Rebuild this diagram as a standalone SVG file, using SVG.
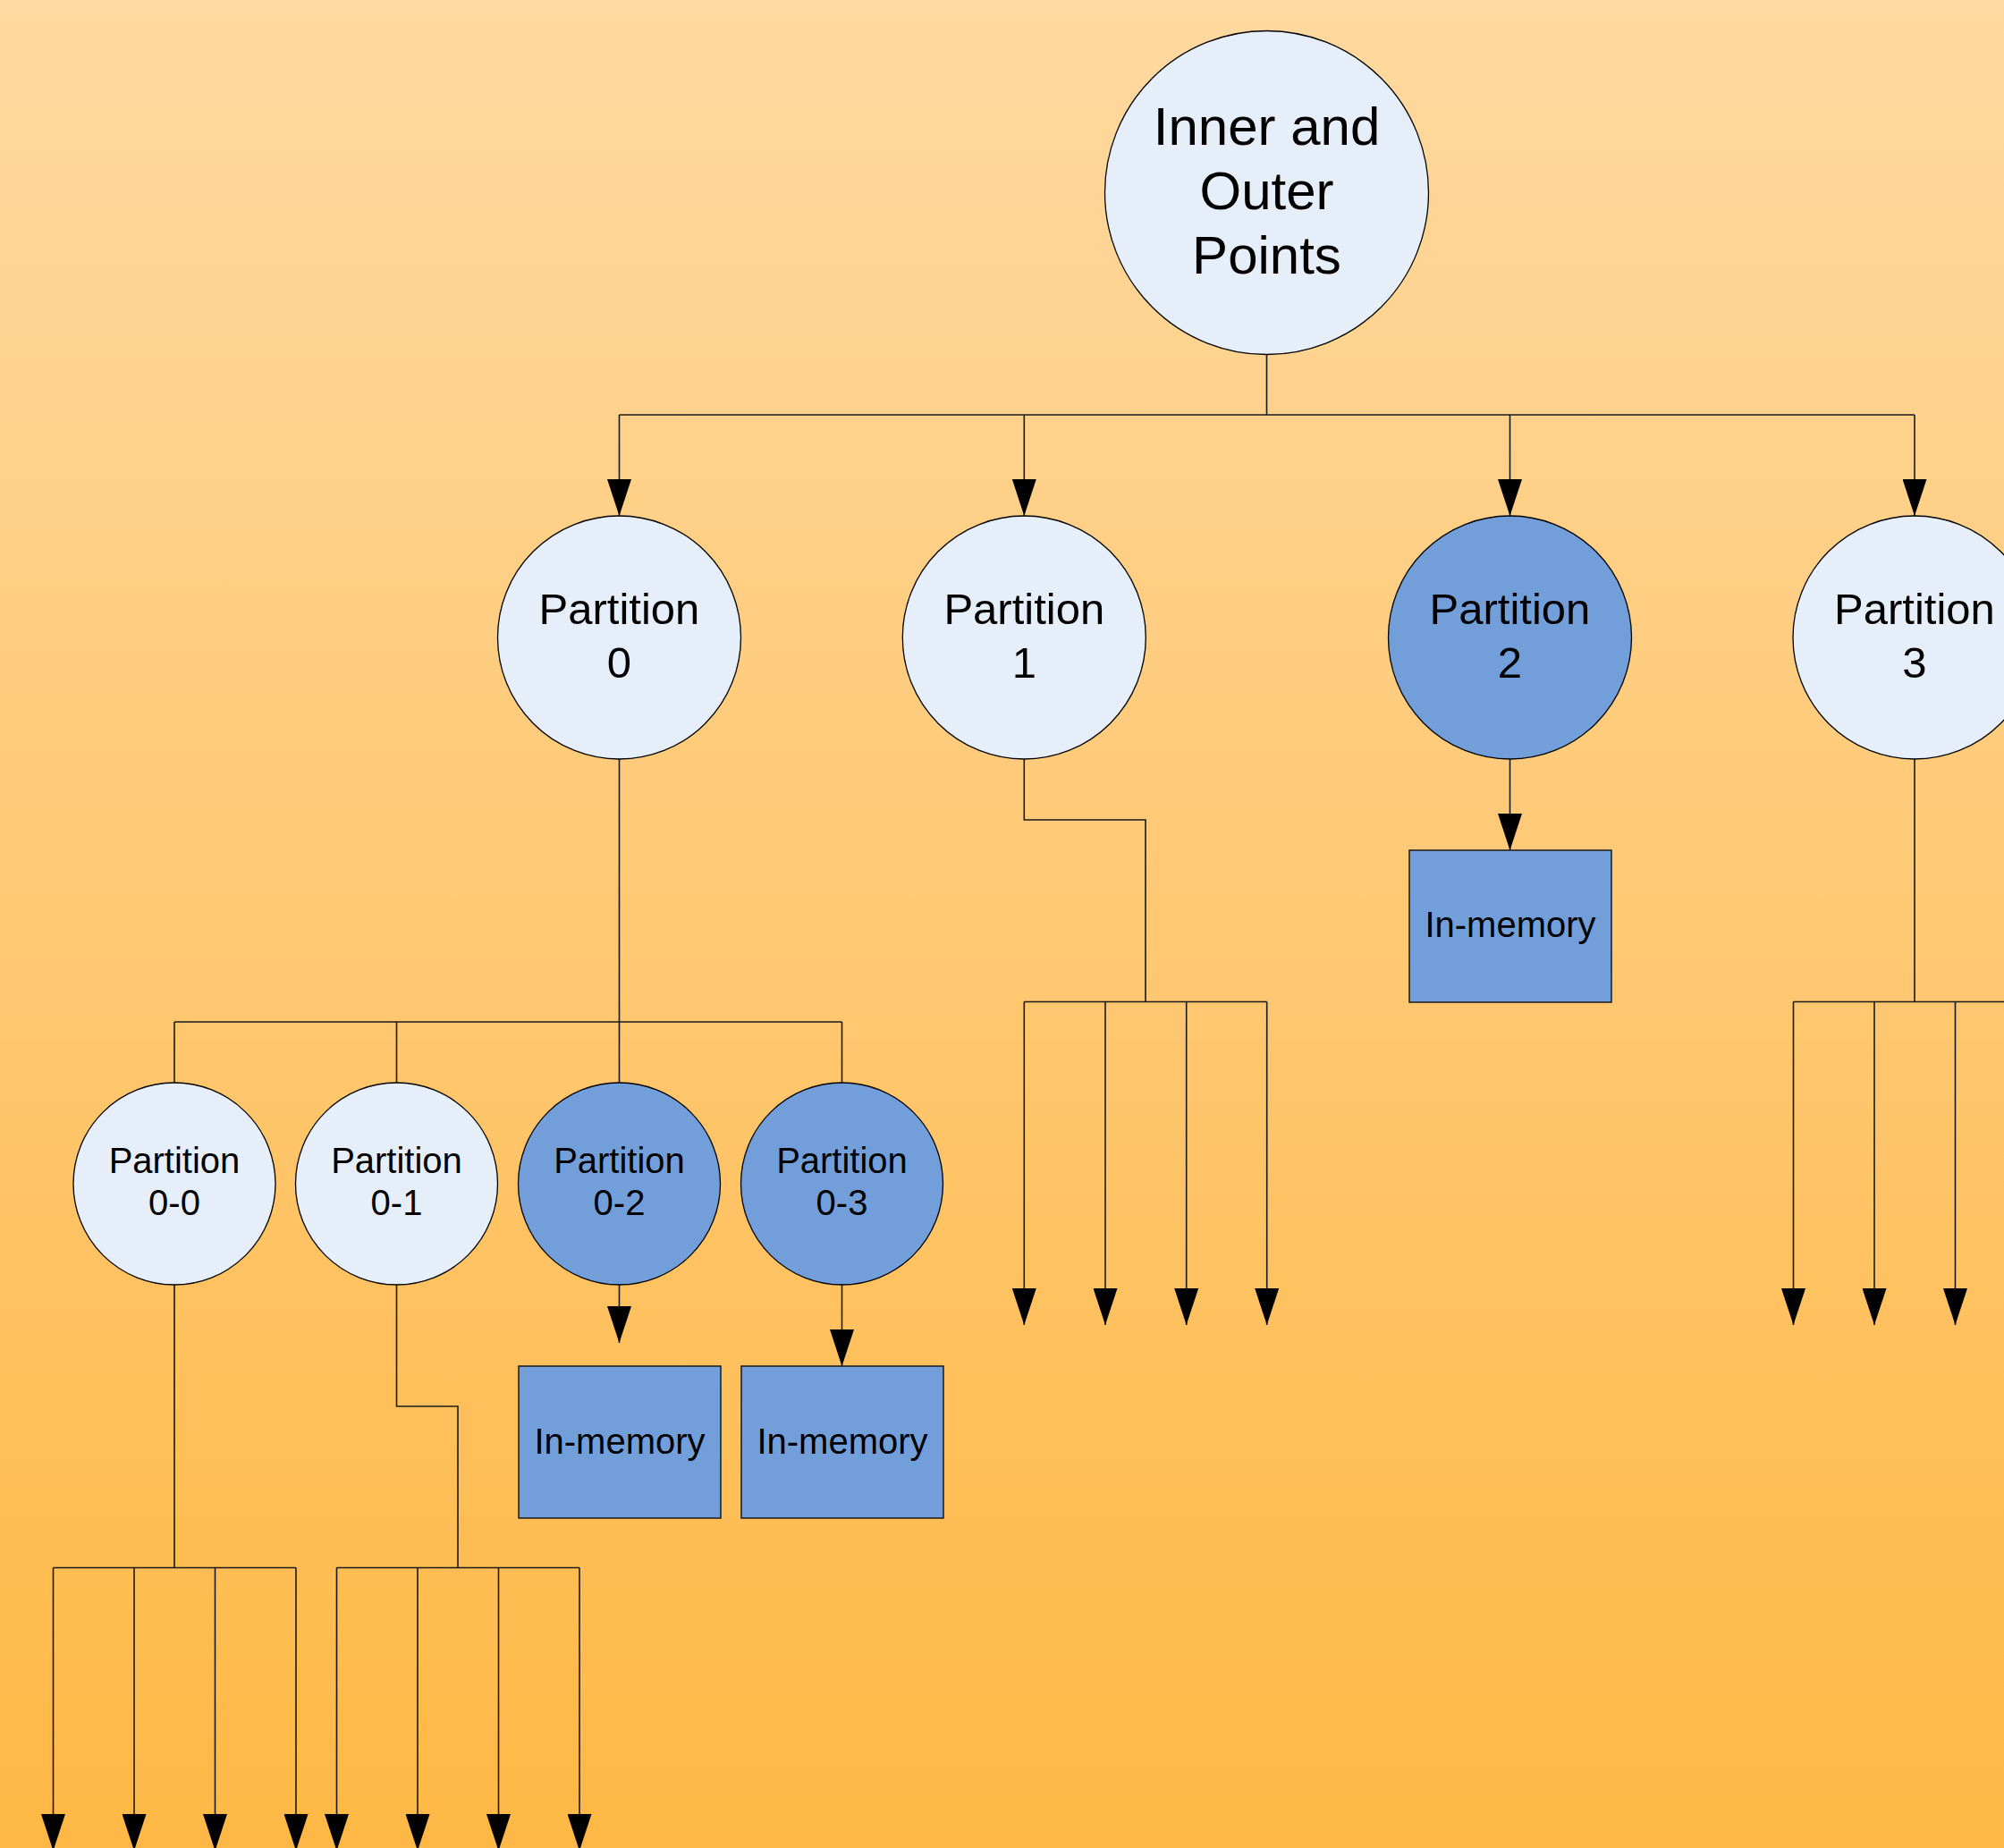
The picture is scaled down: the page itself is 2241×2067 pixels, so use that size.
<svg xmlns="http://www.w3.org/2000/svg" width="2241" height="2067" viewBox="0 0 2241 2067">
<defs>
<linearGradient id="bg" x1="0" y1="0" x2="0" y2="1">
<stop offset="0" stop-color="#FFD9A1"/>
<stop offset="1" stop-color="#FFB845"/>
</linearGradient>
<marker id="arr" viewBox="0 0 41 27" refX="41" refY="13.5" markerWidth="41" markerHeight="27" markerUnits="userSpaceOnUse" orient="auto">
<path d="M0,0 L41,13.5 L0,27 Z" fill="#000"/>
</marker>
</defs>
<style>
.light{fill:#E6EEF9;stroke:#000;stroke-width:1.3}
.blue{fill:#729FDA;stroke:#000;stroke-width:1.3}
.box{fill:#729FDA;stroke:#1a1a1a;stroke-width:1.5}
.c{fill:none;stroke:#1a1a1a;stroke-width:1.6}
.a{marker-end:url(#arr)}
text{font-family:"Liberation Sans",Arial,sans-serif;fill:#000;text-anchor:middle}
.t1{font-size:60px}
.t2{font-size:49px}
.t3{font-size:40px}
</style>
<rect x="0" y="0" width="2241" height="2067" fill="url(#bg)"/>
<g id="connectors">
<path class="c" d="M1416.5,397 V464 M692.5,464 H2141"/>
<path class="c a" d="M692.5,464 V577"/>
<path class="c a" d="M1145.3,464 V577"/>
<path class="c a" d="M1688.5,464 V577"/>
<path class="c a" d="M2141,464 V577"/>
<path class="c" d="M692.5,849 V1143 M195,1143 H941.5 M195,1143 V1211 M443.5,1143 V1211 M692.5,1143 V1211 M941.5,1143 V1211"/>
<path class="c" d="M195,1437 V1753.5 M59.5,1753.5 H331"/>
<path class="c a" d="M59.5,1753.5 V2070"/>
<path class="c a" d="M150,1753.5 V2070"/>
<path class="c a" d="M240.5,1753.5 V2070"/>
<path class="c a" d="M331,1753.5 V2070"/>
<path class="c" d="M443.5,1437 V1573 H512 V1753.5 M376.5,1753.5 H648"/>
<path class="c a" d="M376.5,1753.5 V2070"/>
<path class="c a" d="M467,1753.5 V2070"/>
<path class="c a" d="M557.5,1753.5 V2070"/>
<path class="c a" d="M648,1753.5 V2070"/>
<path class="c a" d="M692.5,1437 V1502"/>
<path class="c a" d="M941.5,1437 V1528"/>
<path class="c" d="M1145.3,849 V917 H1281 V1120.5 M1145.3,1120.5 H1416.7"/>
<path class="c a" d="M1145.3,1120.5 V1482"/>
<path class="c a" d="M1236,1120.5 V1482"/>
<path class="c a" d="M1326.7,1120.5 V1482"/>
<path class="c a" d="M1416.7,1120.5 V1482"/>
<path class="c a" d="M1688.5,849 V951"/>
<path class="c" d="M2141,849 V1120.5 M2005.5,1120.5 H2277"/>
<path class="c a" d="M2005.5,1120.5 V1482"/>
<path class="c a" d="M2096,1120.5 V1482"/>
<path class="c a" d="M2186.5,1120.5 V1482"/>
<path class="c a" d="M2277,1120.5 V1482"/>
</g>
<g id="root">
<circle class="light" cx="1416.5" cy="215.5" r="181"/>
<text class="t1" x="1416.5" y="162">Inner and</text>
<text class="t1" x="1416.5" y="234">Outer</text>
<text class="t1" x="1416.5" y="306">Points</text>
</g>
<g id="p0">
<circle class="light" cx="692.5" cy="713" r="136"/>
<text class="t2" x="692.5" y="698">Partition</text>
<text class="t2" x="692.5" y="758">0</text>
</g>
<g id="p1">
<circle class="light" cx="1145.3" cy="713" r="136"/>
<text class="t2" x="1145.3" y="698">Partition</text>
<text class="t2" x="1145.3" y="758">1</text>
</g>
<g id="p2">
<circle class="blue" cx="1688.5" cy="713" r="136"/>
<text class="t2" x="1688.5" y="698">Partition</text>
<text class="t2" x="1688.5" y="758">2</text>
</g>
<g id="p3">
<circle class="light" cx="2141" cy="713" r="136"/>
<text class="t2" x="2141" y="698">Partition</text>
<text class="t2" x="2141" y="758">3</text>
</g>
<g id="p2-mem">
<rect class="box" x="1576" y="951" width="226" height="170"/>
<text class="t3" x="1689" y="1048">In-memory</text>
</g>
<g id="p0-0">
<circle class="light" cx="195" cy="1324" r="113"/>
<text class="t3" x="195" y="1312">Partition</text>
<text class="t3" x="195" y="1359">0-0</text>
</g>
<g id="p0-1">
<circle class="light" cx="443.5" cy="1324" r="113"/>
<text class="t3" x="443.5" y="1312">Partition</text>
<text class="t3" x="443.5" y="1359">0-1</text>
</g>
<g id="p0-2">
<circle class="blue" cx="692.5" cy="1324" r="113"/>
<text class="t3" x="692.5" y="1312">Partition</text>
<text class="t3" x="692.5" y="1359">0-2</text>
</g>
<g id="p0-3">
<circle class="blue" cx="941.5" cy="1324" r="113"/>
<text class="t3" x="941.5" y="1312">Partition</text>
<text class="t3" x="941.5" y="1359">0-3</text>
</g>
<g id="p0-2-mem">
<rect class="box" x="580" y="1528" width="226" height="170"/>
<text class="t3" x="693" y="1626">In-memory</text>
</g>
<g id="p0-3-mem">
<rect class="box" x="829" y="1528" width="226" height="170"/>
<text class="t3" x="942" y="1626">In-memory</text>
</g>
</svg>
